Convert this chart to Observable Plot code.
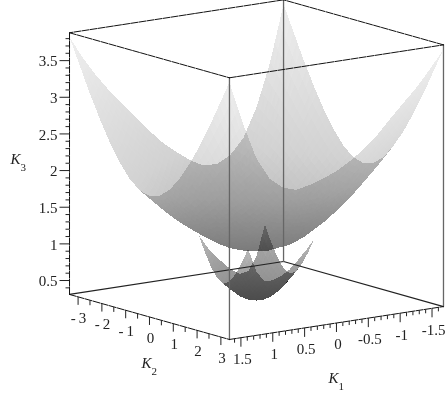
<!DOCTYPE html>
<html><head><meta charset="utf-8">
<style>html,body{margin:0;background:#fff}svg{display:block;filter:blur(.45px)}
text{font-family:"Liberation Serif",serif}.neg{letter-spacing:3px}</style>
<script src="https://cdn.jsdelivr.net/npm/d3@7"></script>
<script src="https://cdn.jsdelivr.net/npm/@observablehq/plot@0.6"></script>
</head><body><script>
// Sheet heights: rows follow K1, columns follow K2.
const upperK1=[-1.68,-1.47,-1.26,-1.05,-.84,-.63,-.42,-.21,0,.21,.42,.63,.84,1.05,1.26,1.47,1.68];
const upperK2=[-3.36,-2.94,-2.52,-2.1,-1.68,-1.26,-.84,-.42,0,.42,.84,1.26,1.68,2.1,2.52,2.94,3.36];
const upperK3=[
[3.82,3.48,3.14,2.83,2.55,2.31,2.12,2.00,1.96,2.00,2.12,2.31,2.55,2.83,3.14,3.48,3.82],
[3.06,2.86,2.66,2.45,2.25,2.07,1.92,1.81,1.78,1.82,1.93,2.11,2.34,2.61,2.91,3.24,3.58],
[2.48,2.38,2.26,2.13,1.98,1.84,1.72,1.64,1.61,1.64,1.75,1.92,2.14,2.40,2.69,3.02,3.36],
[2.08,2.04,1.97,1.87,1.76,1.65,1.55,1.48,1.45,1.48,1.58,1.74,1.95,2.21,2.50,2.82,3.17],
[1.87,1.83,1.77,1.68,1.58,1.48,1.40,1.33,1.31,1.34,1.43,1.58,1.78,2.03,2.31,2.63,2.98],
[1.78,1.72,1.64,1.55,1.45,1.35,1.27,1.20,1.18,1.21,1.30,1.44,1.63,1.86,2.13,2.44,2.78],
[1.79,1.70,1.59,1.47,1.36,1.25,1.17,1.11,1.08,1.11,1.19,1.33,1.51,1.73,1.99,2.29,2.62],
[1.89,1.74,1.59,1.45,1.31,1.20,1.10,1.04,1.02,1.05,1.12,1.25,1.42,1.64,1.89,2.17,2.49],
[2.03,1.83,1.65,1.47,1.32,1.19,1.09,1.02,1.00,1.02,1.10,1.22,1.38,1.58,1.81,2.08,2.38],
[2.18,1.95,1.73,1.54,1.37,1.22,1.11,1.05,1.02,1.05,1.12,1.23,1.39,1.58,1.80,2.04,2.31],
[2.37,2.11,1.87,1.65,1.46,1.30,1.18,1.11,1.08,1.11,1.18,1.29,1.44,1.61,1.81,2.02,2.25],
[2.58,2.29,2.03,1.80,1.59,1.42,1.29,1.21,1.18,1.21,1.28,1.39,1.53,1.68,1.85,2.03,2.21],
[2.79,2.49,2.21,1.97,1.75,1.56,1.42,1.34,1.31,1.33,1.41,1.52,1.66,1.81,1.96,2.12,2.27],
[3.00,2.70,2.41,2.15,1.92,1.73,1.58,1.48,1.45,1.48,1.56,1.68,1.82,1.98,2.13,2.28,2.42],
[3.24,2.93,2.63,2.36,2.12,1.91,1.75,1.64,1.61,1.64,1.73,1.87,2.03,2.20,2.38,2.56,2.73],
[3.51,3.19,2.88,2.59,2.33,2.10,1.93,1.82,1.78,1.82,1.92,2.08,2.28,2.50,2.74,2.98,3.23],
[3.82,3.48,3.14,2.83,2.55,2.31,2.12,2.00,1.96,2.00,2.12,2.31,2.55,2.83,3.14,3.48,3.82]];
const lowerK1=[-.52,-.39,-.26,-.13,0,.13,.26,.39,.52];
const lowerK2=[-1.04,-.78,-.52,-.26,0,.26,.52,.78,1.04];
const lowerK3=[
[1.18,.97,.79,.66,.61,.66,.79,.97,1.18],
[.77,.70,.61,.53,.50,.54,.66,.83,1.04],
[.58,.55,.49,.43,.40,.44,.55,.72,.92],
[.56,.49,.42,.36,.34,.37,.47,.62,.81],
[.63,.51,.41,.34,.31,.34,.43,.56,.74],
[.74,.58,.45,.37,.34,.37,.45,.56,.70],
[.86,.69,.54,.44,.40,.44,.51,.61,.70],
[1.00,.82,.66,.54,.50,.54,.63,.74,.85],
[1.18,.97,.79,.66,.61,.66,.79,.97,1.18]];
// Axis ticks and labels
const k1Major=[1.5,1,.5,0,-.5,-1,-1.5];
const k1Labels=["1.5","1","0.5","0","-0.5","-1","-1.5"];
const k2Major=[-3,-2,-1,0,1,2,3];
const k2Labels=["-3","-2","-1","0","1","2","3"];
const k3Major=[.5,1,1.5,2,2.5,3,3.5];
const k3Labels=["0.5","1","1.5","2","2.5","3","3.5"];
const k1Minor=d3.range(-16,17).filter(v=>v%5!==0).map(v=>v/10);
const k2Minor=[-2.5,-1.5,-.5,.5,1.5,2.5];
const k3Minor=d3.range(4,39).filter(v=>v%5!==0).map(v=>v/10);
const K1=1.68,K2=3.36,K3lo=.31,K3hi=3.88;

// Parallel view of the box
const vx=(a,b)=>256+23.8*b-63.7*a;
const vy=(a,b,c)=>300+6.7*b+9.8*a-73.3*(c-K3lo);

// Each mesh cell is shaded in small facets so that the grey runs smoothly between its corners.
const SHADE=3;
function facets(k1s,k2s,table,tag){
  const out=[];let id=0;
  const push=(pts)=>{const m=d3.mean(pts,p=>p[2]);id++;for(const p of pts)out.push({id:tag+id,x:vx(p[0],p[1]),y:vy(p[0],p[1],p[2]),m})};
  for(let i=0;i<k1s.length-1;i++)for(let j=0;j<k2s.length-1;j++){
    const at=(u,v)=>{const s=u/SHADE,t=v/SHADE;
      return [k1s[i]+(k1s[i+1]-k1s[i])*s,k2s[j]+(k2s[j+1]-k2s[j])*t,
        (1-s)*(1-t)*table[i][j]+s*(1-t)*table[i+1][j]+(1-s)*t*table[i][j+1]+s*t*table[i+1][j+1]]};
    for(let u=0;u<SHADE;u++)for(let v=0;v<SHADE;v++){
      push([at(u,v),at(u+1,v),at(u+1,v+1)]);push([at(u,v),at(u+1,v+1),at(u,v+1)]);
    }
  }
  return out;
}
const surface=[...facets(upperK1,upperK2,upperK3,"u"),...facets(lowerK1,lowerK2,lowerK3,"l")];

const seg=(pts,id)=>pts.map(p=>({id,x:vx(p[0],p[1]),y:vy(p[0],p[1],p[2])}));
const topEdges=[...seg([[K1,-K2,K3hi],[K1,K2,K3hi]],"a"),...seg([[K1,K2,K3hi],[-K1,K2,K3hi]],"b"),...seg([[-K1,K2,K3hi],[-K1,-K2,K3hi]],"c"),...seg([[-K1,-K2,K3hi],[K1,-K2,K3hi]],"d"),
  ...seg([[K1,-K2,K3lo],[K1,K2,K3lo]],"e"),...seg([[K1,K2,K3lo],[-K1,K2,K3lo]],"f"),...seg([[K1,-K2,K3lo],[K1,-K2,K3hi]],"g")];
const backEdges=[...seg([[-K1,K2,K3lo],[-K1,-K2,K3lo]],"h"),...seg([[-K1,-K2,K3lo],[K1,-K2,K3lo]],"i")];
const pillars=[...seg([[K1,K2,K3lo],[K1,K2,K3hi]],"j"),...seg([[-K1,K2,K3lo],[-K1,K2,K3hi]],"k"),...seg([[-K1,-K2,K3lo],[-K1,-K2,K3hi]],"l")];

const k3Tick=(vals,len)=>Plot.link(vals,{x1:c=>vx(K1,-K2)-len,x2:c=>vx(K1,-K2),y1:c=>vy(K1,-K2,c),y2:c=>vy(K1,-K2,c),stroke:"#222",strokeWidth:1});
const k2Tick=(vals,len)=>Plot.link(vals,{x1:b=>vx(K1,b),x2:b=>vx(K1,b),y1:b=>vy(K1,b,K3lo),y2:b=>vy(K1,b,K3lo)+len,stroke:"#222",strokeWidth:1});
const k1Tick=(vals,len)=>Plot.link(vals,{x1:a=>vx(a,K2),x2:a=>vx(a,K2),y1:a=>vy(a,K2,K3lo),y2:a=>vy(a,K2,K3lo)+len,stroke:"#222",strokeWidth:1});
const k3Rows=k3Major.map((c,i)=>({c,t:k3Labels[i]}));
const k2Rows=k2Major.map((b,i)=>({b,t:k2Labels[i]}));
const k1Rows=k1Major.map((a,i)=>({a,t:k1Labels[i]}));
const tickText={fontSize:15,fill:"#222",stroke:"none"};
const nameText={fontSize:15,fontStyle:"italic",fill:"#222",textAnchor:"start"};

const plot=Plot.plot({width:447,height:398,margin:0,
  x:{domain:[0,447],range:[0,447],axis:null},y:{domain:[0,398],range:[0,398],axis:null},
  color:{type:"linear",domain:[.31,.8,1.05,2,3.88],range:["#8a8a8a","#a0a0a0","#b2b2b2","#d2d2d2","#f0f0f0"]},
  marks:[
    Plot.line(surface,{x:"x",y:"y",z:"id",fill:"m",stroke:"none",curve:"linear-closed",mixBlendMode:"multiply",shapeRendering:"crispEdges"}),
    Plot.line(backEdges,{x:"x",y:"y",z:"id",stroke:"#222",strokeWidth:1.2}),
    Plot.line(pillars,{x:"x",y:"y",z:"id",stroke:"#666",strokeWidth:1.3}),
    Plot.line(topEdges,{x:"x",y:"y",z:"id",stroke:"#111",strokeWidth:1,strokeDasharray:"7,1.2"}),
    k3Tick(k3Major,10),k3Tick(k3Minor,4),k2Tick(k2Major,8),k2Tick(k2Minor,5),k1Tick(k1Major,9),k1Tick(k1Minor,4),
    Plot.text(k3Rows,{...tickText,x:d=>vx(K1,-K2),y:d=>vy(K1,-K2,d.c),text:"t",textAnchor:"end",dx:-12,dy:1}),
    Plot.text(k2Rows.filter(d=>d.b<0),{...tickText,className:"neg",x:d=>vx(K1,d.b),y:d=>vy(K1,d.b,K3lo),text:"t",dx:2,dy:21}),
    Plot.text(k2Rows.filter(d=>d.b>=0),{...tickText,x:d=>vx(K1,d.b),y:d=>vy(K1,d.b,K3lo),text:"t",dx:1,dy:21}),
    Plot.text(k1Rows,{...tickText,x:d=>vx(d.a,K2),y:d=>vy(d.a,K2,K3lo),text:"t",dx:1.5,dy:21.5}),
    Plot.text(["K3"],{...nameText,x:()=>vx(K1,-K2),y:()=>vy(K1,-K2,2.15),text:d=>d,dx:-59}),
    Plot.text(["K2"],{...nameText,x:()=>vx(K1,0),y:()=>vy(K1,0,K3lo),text:d=>d,dx:-8,dy:46}),
    Plot.text(["K1"],{...nameText,x:()=>vx(0,K2),y:()=>vy(0,K2,K3lo),text:d=>d,dx:-8,dy:55.5})
  ]});
d3.select(plot).selectAll("text").filter(function(){return /^K[123]$/.test(this.textContent)}).each(function(){
  const n=this.textContent[1];this.textContent="K";
  d3.select(this).append("tspan").attr("font-style","normal").attr("font-size",11).attr("dy",7).text(n);
});
document.body.append(plot);
</script></body></html>
